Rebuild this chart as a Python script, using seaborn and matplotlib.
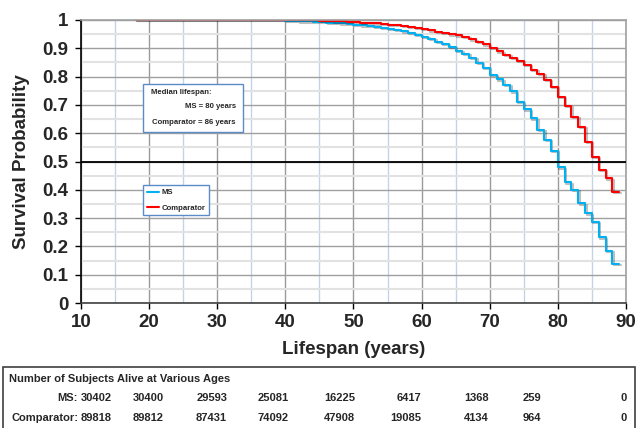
import pandas as pd
import seaborn as sns
import matplotlib.pyplot as plt
import matplotlib.patheffects as pe
from matplotlib.patches import Rectangle
from matplotlib.lines import Line2D

# survival by age (one step per year, age 18 ... 88)
ages = list(range(18, 89))
ms_surv = [1.0] * 22 + [
    0.998, 0.997, 0.996, 0.995, 0.994, 0.993, 0.991, 0.990, 0.988, 0.986,   # 40-49
    0.984, 0.981, 0.979, 0.976, 0.973, 0.969, 0.965, 0.960, 0.955, 0.948,   # 50-59
    0.941, 0.933, 0.924, 0.915, 0.905, 0.892, 0.880, 0.866, 0.849, 0.830,   # 60-69
    0.807, 0.790, 0.770, 0.748, 0.711, 0.684, 0.652, 0.611, 0.576, 0.537,   # 70-79
    0.479, 0.426, 0.399, 0.352, 0.317, 0.287, 0.232, 0.185, 0.138]         # 80-88
comp_surv = [1.0] * 27 + [
    0.998, 0.997, 0.996, 0.995, 0.994,                                      # 45-49
    0.993, 0.991, 0.990, 0.988, 0.986, 0.984, 0.982, 0.979, 0.976, 0.973,   # 50-59
    0.969, 0.964, 0.959, 0.954, 0.950, 0.946, 0.940, 0.932, 0.924, 0.914,   # 60-69
    0.902, 0.889, 0.877, 0.866, 0.855, 0.842, 0.824, 0.809, 0.789, 0.764,   # 70-79
    0.729, 0.696, 0.658, 0.623, 0.570, 0.516, 0.471, 0.440, 0.392]         # 80-88
last_age = 89

table_ages = ['10', '20', '30', '40', '50', '60', '70', '80', '90']
ms_alive = [30402, 30400, 29593, 25081, 16225, 6417, 1368, 259, 0]
comp_alive = [89818, 89812, 87431, 74092, 47908, 19085, 4134, 964, 0]

ms_median = 80
comp_median = 86

# long form table, last value carried to the end age
rows = []
for name, surv in [('MS', ms_surv), ('Comparator', comp_surv)]:
    for a, s in zip(ages + [last_age], surv + [surv[-1]]):
        rows.append({'age': a, 'survival': s, 'group': name})
df = pd.DataFrame(rows)

sns.set_style('white')
plt.rcParams['font.family'] = ['Liberation Sans', 'DejaVu Sans']
plt.rcParams['font.weight'] = 'bold'

fig = plt.figure(figsize=(6.38, 4.28), dpi=100)
ax = fig.add_axes([81/638, 1-303/428, 545/638, 283/428])

colors = {'MS': '#00B0F0', 'Comparator': '#FF0000'}
sns.lineplot(data=df, x='age', y='survival', hue='group', hue_order=['MS', 'Comparator'],
             palette=colors, drawstyle='steps-post', linewidth=1.5, legend=False, ax=ax,
             path_effects=[pe.SimpleLineShadow(offset=(1, -1), alpha=0.25), pe.Normal()])

ax.axhline(0.5, color='black', lw=1.3, zorder=3)

ax.set_xlim(10, 90)
ax.set_ylim(0, 1)
ax.set_xticks(range(10, 91, 10))
ax.set_xticks(range(15, 90, 10), minor=True)
ax.set_yticks([i/10 for i in range(11)])
ax.set_yticklabels(['0', '0.1', '0.2', '0.3', '0.4', '0.5', '0.6', '0.7', '0.8', '0.9', '1'])
ax.set_yticks([i/20 for i in range(1, 20, 2)], minor=True)

ax.grid(axis='x', which='major', color='#9a9a9a', lw=1.0)
ax.grid(axis='x', which='minor', color='#c3d3e8', lw=1.0)
ax.grid(axis='y', which='major', color='#a0a0a0', lw=1.0)
ax.grid(axis='y', which='minor', color='#e2e2e2', lw=1.5)
ax.set_axisbelow(True)

ax.tick_params(axis='both', which='major', direction='out', length=4, width=1,
               labelsize=13.5, color='black', left=True, bottom=True)
ax.tick_params(axis='y', pad=5)
ax.tick_params(axis='x', pad=4)
ax.tick_params(which='minor', length=0)
for lab in ax.get_xticklabels() + ax.get_yticklabels():
    lab.set_fontweight('bold')

for s in ['top', 'right']:
    ax.spines[s].set_color('#a0a0a0')
ax.spines['left'].set_color('black')
ax.spines['bottom'].set_color('#404040')
for s in ax.spines.values():
    s.set_linewidth(1.2)

ax.set_xlabel('Lifespan (years)', fontsize=13.5, fontweight='bold', labelpad=7)
ax.set_ylabel('Survival Probability', fontsize=13.5, fontweight='bold', labelpad=9)

# median lifespan box
ax.add_patch(Rectangle(((143-81)/545, (303-132)/283), 100/545, 48/283, transform=ax.transAxes,
                       facecolor='white', edgecolor='#5b8cc8', lw=1, zorder=4))
ax.text((151-81)/545, (303-92)/283, 'Median lifespan:', transform=ax.transAxes,
        fontsize=5.6, fontweight='bold', va='center', ha='left', zorder=5)
ax.text((236-81)/545, (303-106)/283, f'MS = {ms_median} years', transform=ax.transAxes,
        fontsize=5.6, fontweight='bold', va='center', ha='right', zorder=5)
ax.text((236-81)/545, (303-122)/283, f'Comparator = {comp_median} years', transform=ax.transAxes,
        fontsize=5.6, fontweight='bold', va='center', ha='right', zorder=5)

handles = [Line2D([], [], color=colors[k], lw=1.5) for k in ['MS', 'Comparator']]
leg = ax.legend(handles, ['MS', 'Comparator'], loc='upper left',
                bbox_to_anchor=((143-81)/545, (303-185)/283), fontsize=5.6,
                frameon=True, fancybox=False, framealpha=1, handlelength=1.6,
                handletextpad=0.3, borderpad=0.5, labelspacing=1.0, borderaxespad=0)
leg.get_frame().set_edgecolor('#5b8cc8')
leg.get_frame().set_linewidth(1)
leg.set_zorder(5)
for t in leg.get_texts():
    t.set_fontweight('bold')

# numbers table below the chart
fig.patches.append(Rectangle((3/638, -0.05), 0.99, 1-367/428+0.05, transform=fig.transFigure,
                             facecolor='none', edgecolor='#404040', lw=1.2))
fig.text(9/638, 1-379/428, 'Number of Subjects Alive at Various Ages', fontsize=8,
         fontweight='bold', va='center', ha='left')
col_right = [112, 164, 227, 289, 355, 421, 489, 541, 627]
fig.text(78/638, 1-398/428, 'MS:', fontsize=8, fontweight='bold', va='center', ha='right')
fig.text(78/638, 1-418/428, 'Comparator:', fontsize=8, fontweight='bold', va='center', ha='right')
for xr, m, c in zip(col_right, ms_alive, comp_alive):
    fig.text(xr/638, 1-398/428, str(m), fontsize=8, fontweight='bold', va='center', ha='right')
    fig.text(xr/638, 1-418/428, str(c), fontsize=8, fontweight='bold', va='center', ha='right')

fig.savefig('out.png', dpi=100)
